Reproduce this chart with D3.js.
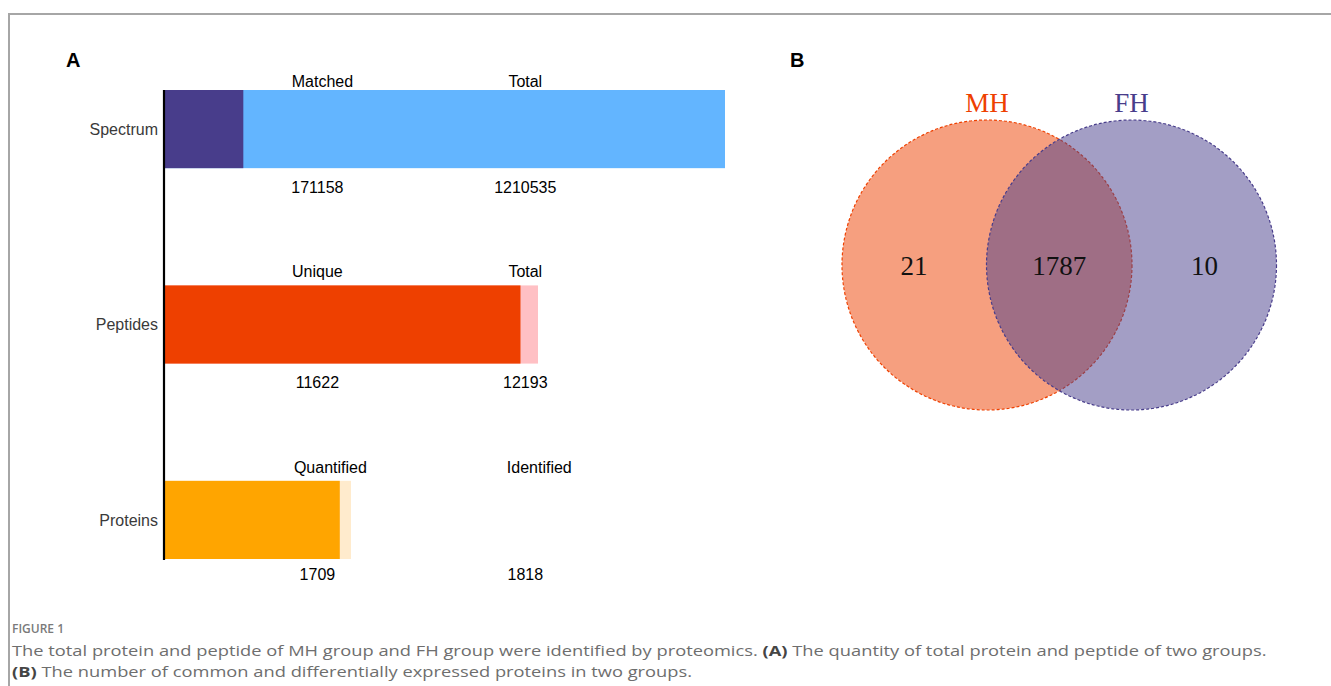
<!DOCTYPE html>
<html>
<head>
<meta charset="utf-8">
<script src="https://cdn.jsdelivr.net/npm/d3@7"></script>
<style>
  html, body { margin: 0; padding: 0; background: #fff; }
  svg { display: block; }
</style>
</head>
<body>
<svg id="chart" width="1331" height="686"></svg>
<script>
// ---------------- DATA ----------------
const categories   = ["Spectrum", "Peptides", "Proteins"];
const partLabels   = ["Matched", "Unique", "Quantified"];
const totalLabels  = ["Total", "Total", "Identified"];
const partValues   = [171158, 11622, 1709];
const totalValues  = [1210535, 12193, 1818];
const partColors   = ["#483D8B", "#EE4000", "#FFA500"];
const totalColors  = ["#63B5FF", "#FFC0C4", "#FFEBCD"];

const vennSets     = ["MH", "FH"];
const vennColors   = ["#EE4000", "#483D8B"];
const vennCounts   = [21, 1787, 10];   // MH only, shared, FH only

const panelLabels  = ["A", "B"];
const figureLabel  = "FIGURE 1";
const captionLine1 = [
  {t: "The total protein and peptide of MH group and FH group were identified by proteomics. ", b: false},
  {t: "(A)", b: true},
  {t: " The quantity of total protein and peptide of two groups.", b: false}
];
const captionLine2 = [
  {t: "(B)", b: true},
  {t: " The number of common and differentially expressed proteins in two groups.", b: false}
];

// ---------------- SETUP ----------------
const svg = d3.select("#chart");
const W = 1331, H = 686;

// frame
svg.append("path")
  .attr("d", `M9,${H} L9,14 L${W},14`)
  .attr("fill", "none")
  .attr("stroke", "#a6a6a6")
  .attr("stroke-width", 2);

// ---------------- PANEL A ----------------
const axX = 164, maxW = 561;
const y = d3.scaleBand().domain(categories).range([90, 559]).paddingInner(0.6).paddingOuter(0);
const n = categories.length;
// each row gets its own linear scale; row widths decrease by rank
const xScales = categories.map((c, i) =>
  d3.scaleLinear().domain([0, totalValues[i]]).range([0, maxW * (n - i) / n]));
const colX = [axX + maxW * 0.277, axX + maxW * 0.644];

const gA = svg.append("g");
gA.append("text").text(panelLabels[0])
  .attr("x", 66).attr("y", 67)
  .attr("font-family", "Liberation Sans, Arial, sans-serif")
  .attr("font-weight", "bold").attr("font-size", 20).attr("fill", "#000");

const rows = gA.selectAll("g.row").data(categories).join("g").attr("class", "row");
rows.append("rect")
  .attr("x", axX)
  .attr("y", d => y(d))
  .attr("height", y.bandwidth())
  .attr("width", (d, i) => xScales[i](totalValues[i]))
  .attr("fill", (d, i) => totalColors[i]);
rows.append("rect")
  .attr("x", axX)
  .attr("y", d => y(d))
  .attr("height", y.bandwidth())
  .attr("width", (d, i) => xScales[i](partValues[i]))
  .attr("fill", (d, i) => partColors[i]);

const font = "Liberation Sans, Arial, sans-serif";
rows.append("text")
  .text(d => d)
  .attr("x", axX - 6)
  .attr("y", d => y(d) + y.bandwidth() / 2)
  .attr("dy", "0.35em")
  .attr("text-anchor", "end")
  .attr("font-family", font).attr("font-size", 16).attr("fill", "#3a3a3a");

const topOff = [3, 8, 8];
const topShift = [3, -2, 11];
const botOff = [25, 24, 21];
rows.append("text").text((d, i) => partLabels[i])
  .attr("x", (d, i) => colX[0] + topShift[i]).attr("y", (d, i) => y(d) - topOff[i])
  .attr("text-anchor", "middle").attr("font-family", font).attr("font-size", 16).attr("fill", "#000");
rows.append("text").text((d, i) => totalLabels[i])
  .attr("x", (d, i) => colX[1] + (i === 2 ? 14 : 0)).attr("y", (d, i) => y(d) - topOff[i])
  .attr("text-anchor", "middle").attr("font-family", font).attr("font-size", 16).attr("fill", "#000");
rows.append("text").text((d, i) => partValues[i])
  .attr("x", colX[0] - 2).attr("y", (d, i) => y(d) + y.bandwidth() + botOff[i])
  .attr("text-anchor", "middle").attr("font-family", font).attr("font-size", 16).attr("fill", "#000");
rows.append("text").text((d, i) => totalValues[i])
  .attr("x", colX[1]).attr("y", (d, i) => y(d) + y.bandwidth() + botOff[i])
  .attr("text-anchor", "middle").attr("font-family", font).attr("font-size", 16).attr("fill", "#000");

// axis line
gA.append("line")
  .attr("x1", axX).attr("x2", axX)
  .attr("y1", y.range()[0]).attr("y2", y.range()[1] + 1)
  .attr("stroke", "#000").attr("stroke-width", 2.2);

// ---------------- PANEL B ----------------
const gB = svg.append("g");
gB.append("text").text(panelLabels[1])
  .attr("x", 790).attr("y", 67)
  .attr("font-family", "Liberation Sans, Arial, sans-serif")
  .attr("font-weight", "bold").attr("font-size", 20).attr("fill", "#000");

const r = 145, cy = 265;
const centers = [987, 1131.5];
const circ = gB.selectAll("g.set").data(vennSets).join("g").attr("class", "set");
circ.append("circle")
  .attr("cx", (d, i) => centers[i]).attr("cy", cy).attr("r", r)
  .attr("fill", (d, i) => vennColors[i]).attr("fill-opacity", 0.5)
  .attr("stroke", (d, i) => vennColors[i]).attr("stroke-width", 1.2)
  .attr("stroke-dasharray", "3,2");
circ.append("text").text(d => d)
  .attr("x", (d, i) => centers[i]).attr("y", cy - r - 8)
  .attr("text-anchor", "middle")
  .attr("font-family", "Liberation Serif, Times New Roman, serif")
  .attr("font-size", 27).attr("fill", (d, i) => vennColors[i]);

const countX = [centers[0] - 73, (centers[0] + centers[1]) / 2, centers[1] + 73];
gB.selectAll("text.cnt").data(vennCounts).join("text").attr("class", "cnt")
  .text(d => d)
  .attr("x", (d, i) => countX[i]).attr("y", cy + 1)
  .attr("dy", "0.35em")
  .attr("text-anchor", "middle")
  .attr("font-family", "Liberation Serif, Times New Roman, serif")
  .attr("font-size", 27).attr("fill", "#111");

// ---------------- CAPTION ----------------
const capFont = "'Open Sans', Lato, sans-serif";
svg.append("text").text(figureLabel)
  .attr("x", 12).attr("y", 633)
  .attr("font-family", capFont).attr("font-weight", "600")
  .attr("font-size", 12).attr("fill", "#7a7a7a");

const capG = svg.append("g");
function captionLine(parts, yy) {
  const t = capG.append("text").attr("x", 0).attr("y", yy)
    .attr("font-family", capFont).attr("font-size", 15).attr("fill", "#6e6e6e");
  parts.forEach(p => t.append("tspan").text(p.t).attr("font-weight", p.b ? "bold" : "normal")
    .attr("fill", p.b ? "#454545" : "#6e6e6e"));
  return t;
}
const l1 = captionLine(captionLine1, 656);
const l2 = captionLine(captionLine2, 677);
// stretch the caption horizontally so the first line spans the reference width
const target = 1268 - 12;
const w1 = l1.node().getComputedTextLength();
const sx = target / w1;
capG.attr("transform", `translate(12,0) scale(${sx},1)`);
</script>
</body>
</html>
